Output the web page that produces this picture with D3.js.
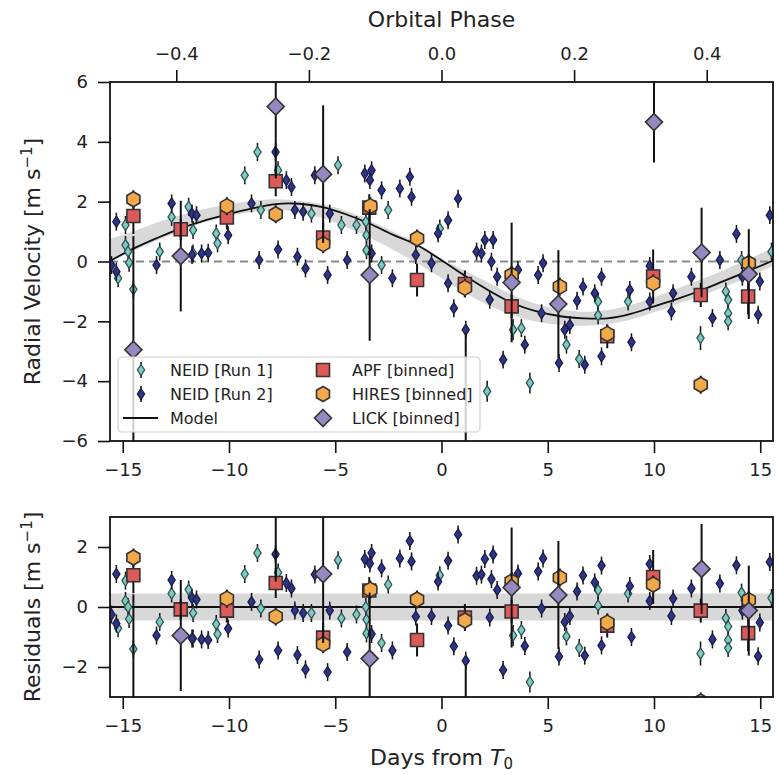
<!DOCTYPE html>
<html>
<head>
<meta charset="utf-8">
<script src="https://cdn.jsdelivr.net/npm/d3@7"></script>
<style>
body { margin: 0; background: #fff; }
svg { font-family: "DejaVu Sans", sans-serif; }
</style>
</head>
<body>
<div id="chart"></div>
<script>
const width = 779;
const height = 775;
const marginLeft = 110;
const marginRight = 6;
const mainTop = 82;
const mainBottom = 441;
const resTop = 517;
const resBottom = 697;

// model curve: day, RV, band low, band high
const modelDays = [-15.6, -14.5, -13.4, -12.3, -11.2, -10.1, -9, -7.8, -6.7, -5.6, -4.5, -3.4, -2.3, -1.15, 0,
    1.1, 2.2, 3.3, 4.4, 5.6, 6.7, 7.8, 8.9, 10, 11.1, 12.2, 13.3, 14.5, 15.6];
const modelRV = [0.02, 0.43, 0.78, 1.1, 1.36, 1.57, 1.76, 1.92, 1.93, 1.82, 1.58, 1.27, 0.9, 0.55, 0.04,
    -0.48, -0.96, -1.38, -1.65, -1.83, -1.9, -1.9, -1.75, -1.5, -1.25, -0.97, -0.65, -0.3, 0.03];
const bandLo = [0.0, 0.35, 0.7, 1.0, 1.3, 1.5, 1.65, 1.72, 1.65, 1.45, 1.15, 0.8, 0.4, -0.05, -0.55,
    -1.05, -1.45, -1.78, -2.0, -2.12, -2.15, -2.1, -1.95, -1.7, -1.42, -1.15, -0.85, -0.5, -0.15];
const bandHi = [0.75, 1.0, 1.3, 1.55, 1.75, 1.9, 2.02, 2.08, 2.02, 1.92, 1.7, 1.38, 1.0, 0.6, 0.1,
    -0.3, -0.7, -1.1, -1.4, -1.6, -1.68, -1.62, -1.45, -1.2, -0.9, -0.6, -0.28, 0.1, 0.45];
const resBandDays = [-15.6, 15.6];
const resBandLo = [-0.45, -0.45];
const resBandHi = [0.45, 0.45];

// [day, rv, residual, error]
const neid1 = [
    [-15.22, -0.56, -0.71, 0.3], [-14.87, 1.22, 0.88, 0.3], [-14.87, 0.55, 0.2, 0.3], [-14.75, 0.33, 0.0, 0.3],
    [-14.7, -0.04, -0.4, 0.3], [-14.5, -0.93, -1.4, 0.3], [-13.26, 0.33, -0.5, 0.3], [-12.7, 1.49, 0.45, 0.3],
    [-11.9, 1.83, 0.58, 0.3], [-11.69, 1.05, -0.2, 0.3], [-11.69, 0.27, -1.05, 0.3], [-10.6, 0.94, -0.57, 0.3],
    [-10.54, 0.61, -0.9, 0.3], [-9.26, 2.88, 1.1, 0.3], [-8.66, 3.66, 1.8, 0.3], [-8.5, 1.72, -0.05, 0.3],
    [-7.69, 3.05, 1.15, 0.3], [-6.12, 1.6, -0.2, 0.3], [-4.87, 3.22, 1.56, 0.3], [-4.71, 1.22, -0.38, 0.3],
    [-4.0, 1.22, -0.25, 0.3], [-3.56, 1.33, 0.0, 0.3], [-3.53, 0.88, -0.42, 0.3], [-3.53, 0.38, -0.88, 0.3],
    [-2.82, -0.12, -1.2, 0.3], [-2.51, 1.72, 0.75, 0.3], [-0.08, 1.1, 1.06, 0.3], [2.15, -4.34, -3.4, 0.35],
    [3.37, -2.28, -0.95, 0.35], [3.76, -2.23, -0.77, 0.3], [4.16, -4.06, -2.5, 0.35], [5.88, -2.78, -0.98, 0.3],
    [6.48, -3.26, -1.37, 0.3], [7.37, -1.34, 0.56, 0.3], [7.37, -1.8, 0.05, 0.3], [8.78, -1.34, 0.45, 0.3],
    [12.19, -2.56, -1.55, 0.4], [13.38, -1.0, -0.37, 0.3], [13.49, -1.28, -0.65, 0.3], [13.49, -1.73, -1.1, 0.3],
    [13.49, -2.0, -1.37, 0.3], [14.12, 0.05, 0.48, 0.3], [15.53, 0.33, 0.3, 0.3]
];
const neid2 = [
    [-15.53, -0.12, -0.25, 0.3], [-15.3, 1.33, 1.1, 0.3], [-15.3, -0.34, -0.55, 0.3], [-13.41, -0.12, -0.95, 0.3],
    [-12.7, 1.94, 0.9, 0.3], [-11.74, 1.6, 0.3, 0.3], [-11.53, 1.55, 0.25, 0.3], [-11.74, 0.22, -1.05, 0.3],
    [-11.29, 0.27, -1.08, 0.3], [-10.98, 0.29, -1.1, 0.3], [-10.04, 0.88, -0.72, 0.3], [-8.94, 1.94, 0.17, 0.3],
    [-8.58, 0.05, -1.75, 0.3], [-7.81, 3.66, 1.76, 0.3], [-7.69, 0.4, -1.45, 0.3], [-7.3, 2.72, 0.8, 0.3],
    [-7.06, 2.49, 0.62, 0.3], [-6.9, 1.72, -0.12, 0.3], [-6.78, 0.16, -1.6, 0.3], [-6.51, 1.66, -0.2, 0.3],
    [-6.4, -0.23, -2.08, 0.3], [-5.96, 2.88, 1.08, 0.3], [-5.36, -0.45, -2.17, 0.3], [-5.26, 1.6, -0.12, 0.3],
    [-4.44, 0.05, -1.5, 0.3], [-3.61, 2.94, 1.6, 0.3], [-3.37, 2.72, 1.45, 0.3], [-3.29, 3.05, 1.8, 0.3],
    [-3.29, 0.27, -0.9, 0.3], [-2.82, 2.38, 1.29, 0.3], [-2.31, -0.56, -1.45, 0.3], [-1.96, 2.44, 1.62, 0.3],
    [-1.49, 2.83, 2.2, 0.3], [-1.41, 2.16, 1.52, 0.3], [-1.21, 0.22, -0.32, 0.3], [-0.47, -0.06, -0.3, 0.3],
    [-0.16, 0.94, 0.85, 0.3], [0.31, 1.38, 1.54, 0.3], [0.31, -0.73, -0.62, 0.3], [0.58, -1.56, -1.31, 0.3],
    [0.78, 2.1, 2.42, 0.3], [1.14, -2.28, -1.79, 0.3], [1.65, 0.33, 1.04, 0.3], [1.88, 0.27, 1.08, 0.3],
    [2.04, 0.72, 1.6, 0.3], [2.27, -1.28, -0.35, 0.3], [2.35, -0.01, 0.93, 0.3], [2.43, 0.72, 1.75, 0.3],
    [2.62, -0.51, 0.57, 0.3], [2.9, -3.28, -2.1, 0.3], [3.6, -0.28, 1.12, 0.3], [3.92, -2.78, -1.3, 0.3],
    [4.55, -0.45, 1.18, 0.3], [4.71, -1.73, -0.05, 0.3], [4.78, -0.06, 1.62, 0.3], [5.53, -3.39, -1.65, 0.3],
    [5.8, -2.28, -0.5, 0.3], [6.04, -2.12, -0.3, 0.3], [6.38, -1.31, 0.52, 0.3], [6.66, -0.84, 1.05, 0.3],
    [6.74, -3.45, -1.62, 0.3], [7.21, -1.06, 0.82, 0.3], [7.53, -0.51, 1.38, 0.3], [7.53, -3.17, -1.28, 0.3],
    [8.86, -0.95, 0.7, 0.3], [8.94, -2.7, -1.0, 0.3], [9.8, -0.15, 1.43, 0.3], [9.8, -1.34, 0.2, 0.3],
    [10.82, -1.67, -0.3, 0.3], [10.9, -1.06, 0.28, 0.3], [11.76, -0.51, 0.62, 0.3], [12.75, -1.89, -1.08, 0.3],
    [13.1, 0.05, 0.78, 0.3], [13.88, 0.92, 1.39, 0.3], [14.16, -0.51, -0.12, 0.3], [14.9, -1.78, -1.64, 0.3],
    [14.98, -0.67, -0.52, 0.3], [15.45, 1.55, 1.5, 0.3]
];
const apf = [
    [-14.5, 1.52, 1.06, 0.6], [-12.27, 1.08, -0.08, 0.35], [-10.1, 1.47, -0.12, 0.4], [-7.8, 2.68, 0.8, 0.5],
    [-5.57, 0.8, -1.02, 0.5], [-3.4, 1.8, 0.55, 0.45], [-1.15, -0.62, -1.1, 0.55], [1.1, -0.75, -0.35, 0.45],
    [3.3, -1.5, -0.15, 0.4], [7.8, -2.5, -0.62, 0.4], [9.96, -0.5, 1.0, 0.9], [12.2, -1.12, -0.12, 0.4],
    [14.43, -1.17, -0.87, 0.6]
];
const hires = [
    [-14.5, 2.08, 1.65, 0.3], [-10.1, 1.85, 0.28, 0.3], [-7.8, 1.58, -0.32, 0.3], [-5.57, 0.58, -1.24, 0.3],
    [-3.35, 1.85, 0.58, 0.3], [-1.15, 0.77, 0.25, 0.3], [1.1, -0.88, -0.45, 0.3], [3.3, -0.45, 0.85, 0.3],
    [5.57, -0.84, 0.98, 0.3], [7.8, -2.42, -0.52, 0.3], [9.96, -0.73, 0.75, 0.3], [12.2, -4.12, -3.15, 0.3],
    [14.46, -0.06, 0.23, 0.3]
];
const lick = [
    [-14.5, -2.95, -3.38, 3.8], [-12.27, 0.18, -0.95, 1.85], [-7.8, 5.18, 3.25, 2.4], [-5.57, 2.92, 1.1, 2.3],
    [-3.38, -0.45, -1.72, 2.2], [1.14, -6.9, -6.45, 4.5], [3.3, -0.7, 0.65, 2.0], [5.5, -1.42, 0.4, 1.8],
    [10.0, 4.66, 6.16, 1.35], [12.24, 0.3, 1.27, 1.5], [14.46, -0.42, -0.12, 1.5]
];

const dayTicks = [-15, -10, -5, 0, 5, 10, 15];
const phaseTicks = [-0.4, -0.2, 0.0, 0.2, 0.4];
const rvTicks = [-6, -4, -2, 0, 2, 4, 6];
const resTicks = [-2, 0, 2];

const svg = d3.select('#chart')
    .append('svg')
    .attr('width', width)
    .attr('height', height);

const x = d3.scaleLinear()
    .domain([-15.6, 15.6])
    .range([marginLeft, width - marginRight]);
const phaseX = d3.scaleLinear()
    .domain([-0.5, 0.5])
    .range([marginLeft, width - marginRight]);
const y = d3.scaleLinear()
    .domain([-6, 6])
    .range([mainBottom, mainTop]);
const yRes = d3.scaleLinear()
    .domain([-3, 3])
    .range([resBottom, resTop]);

const defs = svg.append('defs');
defs.append('clipPath').attr('id', 'clipMain')
    .append('rect')
    .attr('x', marginLeft).attr('y', mainTop)
    .attr('width', width - marginRight - marginLeft).attr('height', mainBottom - mainTop);
defs.append('clipPath').attr('id', 'clipRes')
    .append('rect')
    .attr('x', marginLeft).attr('y', resTop)
    .attr('width', width - marginRight - marginLeft).attr('height', resBottom - resTop);

// marker shapes
function shapePath(kind) {
    if (kind === 'thin') return 'M0,-5.5L3.6,0L0,5.5L-3.6,0Z';
    if (kind === 'square') return 'M-6.5,-6.5H6.5V6.5H-6.5Z';
    if (kind === 'diamond') return 'M0,-8.5L8.5,0L0,8.5L-8.5,0Z';
    const r = 7.5;
    const pts = d3.range(6).map((i) => {
        const a = Math.PI / 3 * i - Math.PI / 2;
        return [r * Math.cos(a), r * Math.sin(a)];
    });
    return 'M' + pts.map((p) => p.join(',')).join('L') + 'Z';
}

const styles = {
    neid1: { kind: 'thin', fill: '#7dcdbf', stroke: '#2f5257', sw: 1.3, bar: 1.5 },
    neid2: { kind: 'thin', fill: '#2f3586', stroke: '#191c48', sw: 1.3, bar: 1.5 },
    apf: { kind: 'square', fill: '#dc5a57', stroke: '#333333', sw: 1.6, bar: 2 },
    hires: { kind: 'hex', fill: '#f3a94a', stroke: '#333333', sw: 1.6, bar: 2 },
    lick: { kind: 'diamond', fill: '#9688c0', stroke: '#333333', sw: 1.6, bar: 2 }
};

function drawSeries(g, data, yScale, idx, st) {
    const s = g.append('g');
    s.selectAll('line')
        .data(data)
        .join('line')
        .attr('x1', (d) => x(d[0]))
        .attr('x2', (d) => x(d[0]))
        .attr('y1', (d) => yScale(d[idx] - d[3]))
        .attr('y2', (d) => yScale(d[idx] + d[3]))
        .attr('stroke', '#111')
        .attr('stroke-width', st.bar);
    s.selectAll('path')
        .data(data)
        .join('path')
        .attr('d', shapePath(st.kind))
        .attr('transform', (d) => `translate(${x(d[0])},${yScale(d[idx])})`)
        .attr('fill', st.fill)
        .attr('stroke', st.stroke)
        .attr('stroke-width', st.sw);
}

function drawPanel(clipId, yScale, idx, isMain) {
    const g = svg.append('g').attr('clip-path', `url(#${clipId})`);
    const bandData = isMain
        ? modelDays.map((d, i) => ({ day: d, lo: bandLo[i], hi: bandHi[i] }))
        : resBandDays.map((d, i) => ({ day: d, lo: resBandLo[i], hi: resBandHi[i] }));
    g.append('path')
        .datum(bandData)
        .attr('fill', '#d8d8d8')
        .attr('d', d3.area()
            .x((d) => x(d.day))
            .y0((d) => yScale(d.lo))
            .y1((d) => yScale(d.hi))
            .curve(d3.curveCatmullRom));
    if (isMain) {
        g.append('line')
            .attr('x1', marginLeft).attr('x2', width - marginRight)
            .attr('y1', yScale(0)).attr('y2', yScale(0))
            .attr('stroke', '#8a8a8a')
            .attr('stroke-width', 1.8)
            .attr('stroke-dasharray', '8,5');
        g.append('path')
            .datum(modelDays.map((d, i) => [d, modelRV[i]]))
            .attr('fill', 'none')
            .attr('stroke', '#111')
            .attr('stroke-width', 1.8)
            .attr('d', d3.line()
                .x((d) => x(d[0]))
                .y((d) => yScale(d[1]))
                .curve(d3.curveCatmullRom));
    } else {
        g.append('line')
            .attr('x1', marginLeft).attr('x2', width - marginRight)
            .attr('y1', yScale(0)).attr('y2', yScale(0))
            .attr('stroke', '#111')
            .attr('stroke-width', 1.8);
    }
    drawSeries(g, neid1, yScale, idx, styles.neid1);
    drawSeries(g, neid2, yScale, idx, styles.neid2);
    drawSeries(g, apf, yScale, idx, styles.apf);
    drawSeries(g, hires, yScale, idx, styles.hires);
    drawSeries(g, lick, yScale, idx, styles.lick);
}

drawPanel('clipMain', y, 1, true);
drawPanel('clipRes', yRes, 2, false);

// axes
function styleAxis(sel) {
    sel.selectAll('.domain').remove();
    sel.selectAll('.tick line').attr('stroke', '#111').attr('stroke-width', 1.6);
    sel.selectAll('.tick text').attr('fill', '#222').style('font-size', '18px')
        .style('font-family', '"DejaVu Sans", sans-serif');
}
const intFormat = d3.format('d');

svg.append('g')
    .attr('transform', `translate(${marginLeft},0)`)
    .call(d3.axisLeft(y).tickValues(rvTicks).tickSize(12).tickPadding(10).tickFormat(intFormat))
    .call(styleAxis);
svg.append('g')
    .attr('transform', `translate(${marginLeft},0)`)
    .call(d3.axisLeft(yRes).tickValues(resTicks).tickSize(12).tickPadding(10).tickFormat(intFormat))
    .call(styleAxis);
svg.append('g')
    .attr('transform', `translate(0,${mainBottom})`)
    .call(d3.axisBottom(x).tickValues(dayTicks).tickSize(12).tickPadding(10).tickFormat(intFormat))
    .call(styleAxis);
svg.append('g')
    .attr('transform', `translate(0,${resBottom})`)
    .call(d3.axisBottom(x).tickValues(dayTicks).tickSize(12).tickPadding(10).tickFormat(intFormat))
    .call(styleAxis);
svg.append('g')
    .attr('transform', `translate(0,${mainTop})`)
    .call(d3.axisTop(phaseX).tickValues(phaseTicks).tickSize(12).tickPadding(10).tickFormat(d3.format('.1f')))
    .call(styleAxis);

// spines
[[mainTop, mainBottom], [resTop, resBottom]].forEach(([t, b]) => {
    svg.append('rect')
        .attr('x', marginLeft).attr('y', t)
        .attr('width', width - marginRight - marginLeft).attr('height', b - t)
        .attr('fill', 'none')
        .attr('stroke', '#111')
        .attr('stroke-width', 1.8);
});

// labels
svg.append('text')
    .attr('x', (marginLeft + width - marginRight) / 2)
    .attr('y', 27)
    .attr('text-anchor', 'middle')
    .style('font-size', '22px')
    .attr('fill', '#222')
    .text('Orbital Phase');

const xlab = svg.append('text')
    .attr('x', (marginLeft + width - marginRight) / 2)
    .attr('y', 765)
    .attr('text-anchor', 'middle')
    .style('font-size', '22px')
    .attr('fill', '#222');
xlab.append('tspan').text('Days from ');
xlab.append('tspan').style('font-style', 'italic').text('T');
xlab.append('tspan').attr('dy', 4).style('font-size', '15px').text('0');

function yLabel(text, cy) {
    const t = svg.append('text')
        .attr('transform', `translate(40,${cy}) rotate(-90)`)
        .attr('text-anchor', 'middle')
        .style('font-size', '22px')
        .attr('fill', '#222');
    t.append('tspan').text(text + ' [m s');
    t.append('tspan').attr('dy', -8).style('font-size', '15px').text('\u22121');
    t.append('tspan').attr('dy', 8).text(']');
}
yLabel('Radial Velocity', (mainTop + mainBottom) / 2);
yLabel('Residuals', (resTop + resBottom) / 2);

// legend
const legendEntries = [
    { label: 'NEID [Run 1]', st: styles.neid1, col: 0, row: 0 },
    { label: 'NEID [Run 2]', st: styles.neid2, col: 0, row: 1 },
    { label: 'Model', st: null, col: 0, row: 2 },
    { label: 'APF [binned]', st: styles.apf, col: 1, row: 0 },
    { label: 'HIRES [binned]', st: styles.hires, col: 1, row: 1 },
    { label: 'LICK [binned]', st: styles.lick, col: 1, row: 2 }
];
const legend = svg.append('g').attr('class', 'legend');
legend.append('rect')
    .attr('x', 118).attr('y', 357)
    .attr('width', 362).attr('height', 75)
    .attr('rx', 4)
    .attr('fill', 'white')
    .attr('fill-opacity', 0.8)
    .attr('stroke', '#cfcfcf')
    .attr('stroke-width', 1.2);
legendEntries.forEach((e) => {
    const mx = e.col === 0 ? 141 : 323;
    const my = 370 + e.row * 24;
    if (e.st) {
        if (e.st.kind === 'thin') {
            legend.append('line')
                .attr('x1', mx).attr('x2', mx)
                .attr('y1', my - 8).attr('y2', my + 8)
                .attr('stroke', '#111').attr('stroke-width', 1.5);
        }
        legend.append('path')
            .attr('d', shapePath(e.st.kind))
            .attr('transform', `translate(${mx},${my})`)
            .attr('fill', e.st.fill)
            .attr('stroke', e.st.stroke)
            .attr('stroke-width', e.st.sw);
    } else {
        legend.append('line')
            .attr('x1', 123).attr('x2', 158)
            .attr('y1', my).attr('y2', my)
            .attr('stroke', '#111').attr('stroke-width', 1.8);
    }
    legend.append('text')
        .attr('x', e.col === 0 ? 170 : 352)
        .attr('y', my + 6)
        .style('font-size', '16px')
        .attr('fill', '#222')
        .text(e.label);
});
</script>
</body>
</html>
